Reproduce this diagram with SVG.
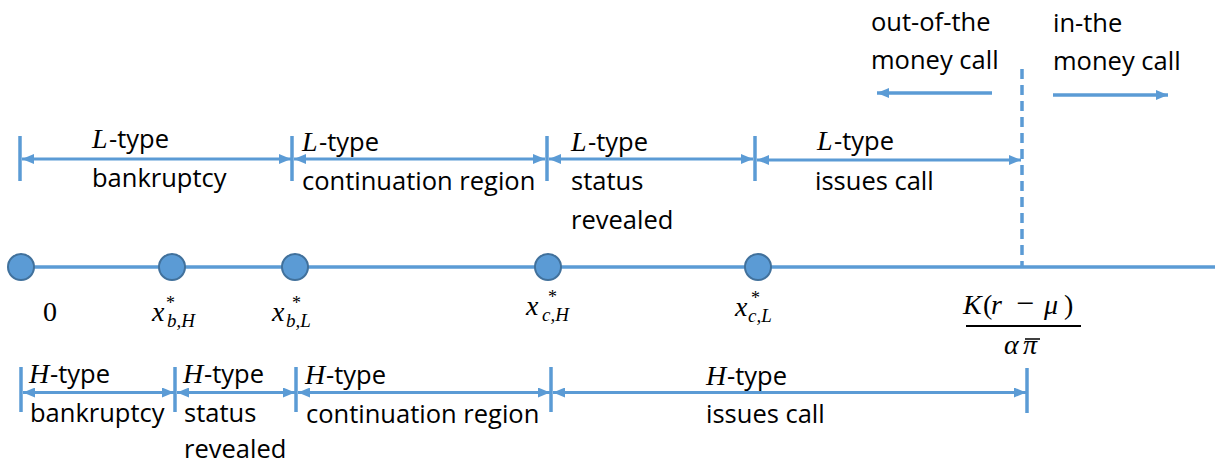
<svg xmlns="http://www.w3.org/2000/svg" width="1215" height="466" viewBox="0 0 1215 466">
<style>
.ln{stroke:#5B9BD5;stroke-width:3.5;fill:none}
.tick{stroke:#5B9BD5;stroke-width:3.5}
.arr{stroke:#5B9BD5;stroke-width:3;fill:none;marker-start:url(#ah);marker-end:url(#ah)}
.arr1{stroke:#5B9BD5;stroke-width:3.5;fill:none;marker-end:url(#ah)}
.pt{fill:#5B9BD5;stroke:#41719C;stroke-width:2}
.t{font-family:"Open Sans","Noto Sans",sans-serif;font-size:25.5px;fill:#000;font-style:normal}
.m{font-family:"Liberation Serif","DejaVu Serif",serif;font-style:italic;font-size:28px;fill:#000}
.mu{font-family:"Liberation Serif","DejaVu Serif",serif;font-style:normal;font-size:28px;fill:#000}
.st{font-family:"Liberation Serif","DejaVu Serif",serif;font-style:normal;font-size:18px;fill:#000}
.sb{font-family:"Liberation Serif","DejaVu Serif",serif;font-style:italic;font-size:19px;fill:#000}
</style>
<defs>
<marker id="ah" markerUnits="userSpaceOnUse" markerWidth="12" markerHeight="10" viewBox="0 0 12 10" refX="12" refY="5" orient="auto-start-reverse">
<path d="M0,0 L12,5 L0,10 z" fill="#5B9BD5"/>
</marker>
</defs>
<rect width="1215" height="466" fill="#fff"/>

<g id="axis">
<line class="ln" x1="21" y1="267" x2="1215" y2="267"/>
<line class="ln" x1="1022" y1="69" x2="1022" y2="267" stroke-dasharray="10 6"/>
</g>

<g id="connectors">
<line class="tick" x1="20" y1="136" x2="20" y2="181"/>
<line class="tick" x1="292" y1="136" x2="292" y2="181"/>
<line class="tick" x1="547" y1="136" x2="547" y2="181"/>
<line class="tick" x1="755" y1="136" x2="755" y2="181"/>
<line class="arr" x1="22" y1="159" x2="291" y2="159"/>
<line class="arr" x1="294" y1="159" x2="545" y2="159"/>
<line class="arr" x1="549" y1="159" x2="753" y2="159"/>
<line class="arr" x1="757" y1="160" x2="1021" y2="160"/>

<line class="tick" x1="21" y1="367" x2="21" y2="412"/>
<line class="tick" x1="175" y1="367" x2="175" y2="412"/>
<line class="tick" x1="296" y1="367" x2="296" y2="412"/>
<line class="tick" x1="551" y1="367" x2="551" y2="412"/>
<line class="tick" x1="1027" y1="368" x2="1027" y2="413"/>
<line class="arr" x1="23" y1="392.5" x2="174" y2="392.5"/>
<line class="arr" x1="177" y1="392.5" x2="295" y2="392.5"/>
<line class="arr" x1="298" y1="392.5" x2="550" y2="392.5"/>
<line class="arr" x1="553" y1="392.5" x2="1026" y2="392.5"/>

<line class="arr1" x1="992" y1="93" x2="877" y2="93"/>
<line class="arr1" x1="1053" y1="95" x2="1168" y2="95"/>
</g>

<g id="moneyness-labels">
<text class="t" x="871" y="31">out-of-the</text>
<text class="t" x="871" y="69">money call</text>
<text class="t" x="1053" y="32">in-the</text>
<text class="t" x="1053" y="70">money call</text>
</g>

<g id="node-0">
<circle class="pt" cx="21" cy="267" r="13"/>
<text class="mu" x="43" y="321">0</text>
</g>
<g id="node-xbH">
<circle class="pt" cx="172" cy="267" r="13"/>
<text class="m" y="321"><tspan x="152">x</tspan><tspan class="st" x="166" y="309">*</tspan><tspan class="sb" x="167" y="327">b,H</tspan></text>
</g>
<g id="node-xbL">
<circle class="pt" cx="295" cy="267" r="13"/>
<text class="m" y="321"><tspan x="272">x</tspan><tspan class="st" x="292" y="309">*</tspan><tspan class="sb" x="286" y="327">b,L</tspan></text>
</g>
<g id="node-xcH">
<circle class="pt" cx="548" cy="267" r="13"/>
<text class="m" y="315"><tspan x="526">x</tspan><tspan class="st" x="548" y="303">*</tspan><tspan class="sb" x="542" y="321">c,H</tspan></text>
</g>
<g id="node-xcL">
<circle class="pt" cx="758" cy="267" r="13"/>
<text class="m" y="316"><tspan x="735">x</tspan><tspan class="st" x="751" y="304">*</tspan><tspan class="sb" x="748" y="322">c,L</tspan></text>
</g>
<g id="node-strike">
<text y="314"><tspan class="m" x="963">K</tspan><tspan class="mu" x="983">(</tspan><tspan class="m" x="991">r</tspan><tspan class="mu" x="1016" style="font-size:32px">−</tspan><tspan class="m" x="1044">μ</tspan><tspan class="mu" x="1064">)</tspan></text>
<line x1="966" y1="326" x2="1081" y2="326" stroke="#000" stroke-width="2"/>
<text y="354"><tspan class="m" x="1004">α</tspan><tspan class="m" x="1023">π</tspan></text>
<line x1="1025" y1="339" x2="1040" y2="339" stroke="#000" stroke-width="1.5"/>
</g>

<g id="L-regions">
<text y="148"><tspan class="m" x="92">L</tspan><tspan class="t" x="109">-type</tspan></text>
<text class="t" x="92" y="187">bankruptcy</text>
<text y="151"><tspan class="m" x="302">L</tspan><tspan class="t" x="319">-type</tspan></text>
<text class="t" x="302" y="190">continuation region</text>
<text y="151"><tspan class="m" x="571">L</tspan><tspan class="t" x="588">-type</tspan></text>
<text class="t" x="571" y="190">status</text>
<text class="t" x="571" y="229">revealed</text>
<text y="150"><tspan class="m" x="817">L</tspan><tspan class="t" x="834">-type</tspan></text>
<text class="t" x="815" y="190">issues call</text>
</g>

<g id="H-regions">
<text y="383"><tspan class="m" x="29">H</tspan><tspan class="t" x="50">-type</tspan></text>
<text class="t" x="30" y="422">bankruptcy</text>
<text y="383"><tspan class="m" x="183">H</tspan><tspan class="t" x="204">-type</tspan></text>
<text class="t" x="184" y="422">status</text>
<text class="t" x="184" y="458">revealed</text>
<text y="384"><tspan class="m" x="305">H</tspan><tspan class="t" x="326">-type</tspan></text>
<text class="t" x="306" y="423">continuation region</text>
<text y="385"><tspan class="m" x="706">H</tspan><tspan class="t" x="727">-type</tspan></text>
<text class="t" x="706" y="423">issues call</text>
</g>
</svg>
